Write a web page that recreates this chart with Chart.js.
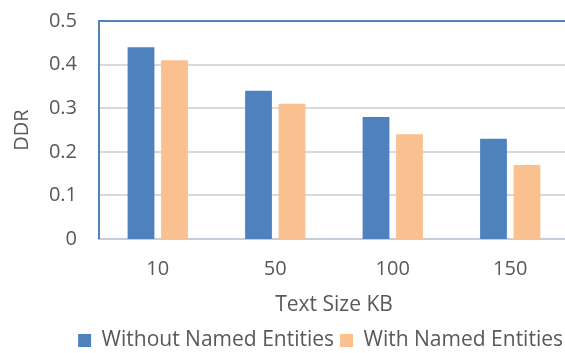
<!DOCTYPE html>
<html>
<head>
<meta charset="utf-8">
<script src="https://cdn.jsdelivr.net/npm/chart.js@4"></script>
<style>
  html, body { margin: 0; padding: 0; background: #fff; overflow: hidden; }
  #wrap { width: 565px; height: 353px; overflow: hidden; }
</style>
</head>
<body>
<div id="wrap"><canvas id="chart" width="640" height="353"></canvas></div>
<script>
// data
const categories = ['10', '50', '100', '150'];
const withoutNE = [0.44, 0.34, 0.28, 0.23];
const withNE = [0.41, 0.31, 0.24, 0.17];
const yTicks = [0, 0.1, 0.2, 0.3, 0.4, 0.5];

const blue = '#4f81bd';
const orange = '#fac090';
const txt = '#595959';
const font = "'Open Sans', sans-serif";

const ctx = document.getElementById('chart').getContext('2d');
const chart = new Chart(ctx, {
    type: 'bar',
    data: {
        labels: categories,
        datasets: [
            { label: 'Without Named Entities', data: withoutNE, backgroundColor: blue },
            { label: 'With Named Entities', data: withNE, backgroundColor: orange }
        ]
    },
    options: {
        responsive: false,
        animation: false,
        categoryPercentage: 0.57,
        barPercentage: 0.8,
        layout: { padding: { top: 21, right: 71, left: 0, bottom: -8 } },
        scales: {
            x: {
                grid: { display: false },
                border: { color: '#c5cedb', width: 2 },
                ticks: { color: txt, font: { family: font, size: 20 }, padding: 10 },
                title: { display: true, text: 'Text Size KB', color: txt, font: { family: font, size: 21 }, padding: { top: 0, bottom: 6 } },
                afterFit: s => { s.height = 85; }
            },
            y: {
                min: 0,
                max: 0.5,
                afterBuildTicks: s => { s.ticks = yTicks.map(v => ({ value: v })); },
                grid: {
                    color: c => c.tick.value === 0.5 ? blue : (c.tick.value === 0 ? '#c5cedb' : '#d9d9d9'),
                    lineWidth: c => c.tick.value === 0 ? 0 : 2,
                    drawTicks: false
                },
                border: { color: blue, width: 2 },
                ticks: { color: txt, font: { family: font, size: 20 }, padding: 22 },
                title: { display: true, text: 'DDR', color: txt, font: { family: font, size: 20 }, padding: 10 },
                afterFit: s => { s.width = 99; s.paddingTop = 0; s.paddingBottom = 0; }
            }
        },
        plugins: {
            legend: {
                position: 'bottom',
                align: 'end',
                labels: { color: txt, font: { family: font, size: 21 }, boxWidth: 13, boxHeight: 13, padding: 6 }
            },
            tooltip: { enabled: false }
        }
    }
});
</script>
</body>
</html>
